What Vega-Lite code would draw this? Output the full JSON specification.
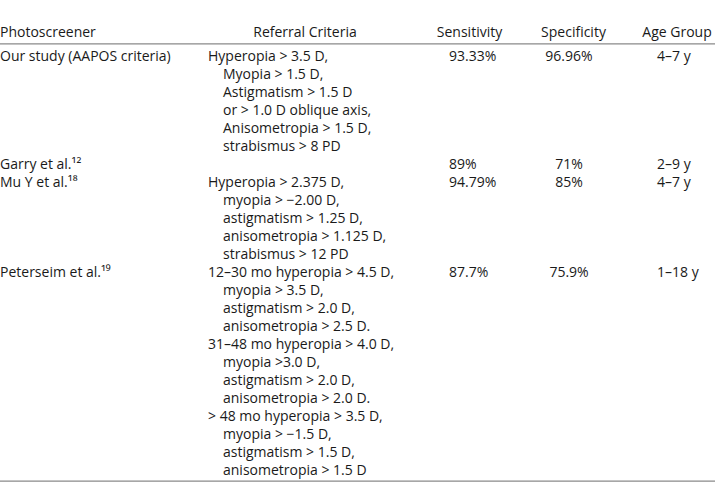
{
  "$schema": "https://vega.github.io/schema/vega-lite/v6.json",
  "width": 715,
  "height": 501,
  "padding": 0,
  "autosize": {"type": "none"},
  "background": "white",
  "config": {
    "view": {"stroke": null},
    "text": {"font": "Open Sans", "fontSize": 14, "color": "#1a1a1a", "baseline": "middle"}
  },
  "datasets": {
    "headers": [
      {"col": 0, "line": -1, "text": "Photoscreener"},
      {"col": 1, "line": -1, "text": "Referral Criteria"},
      {"col": 2, "line": -1, "text": "Sensitivity"},
      {"col": 3, "line": -1, "text": "Specificity"},
      {"col": 4, "line": -1, "text": "Age Group"}
    ],
    "body": [
      {"line": 0, "col": 0, "column": "Photoscreener", "text": "Our study (AAPOS criteria)"},
      {"line": 0, "col": 1, "column": "Referral Criteria", "text": "Hyperopia > 3.5 D,"},
      {"line": 0, "col": 3, "column": "Sensitivity", "text": "93.33%"},
      {"line": 0, "col": 4, "column": "Specificity", "text": "96.96%"},
      {"line": 0, "col": 5, "column": "Age Group", "text": "4–7 y"},
      {"line": 1, "col": 2, "column": "Referral Criteria", "text": "Myopia > 1.5 D,"},
      {"line": 2, "col": 2, "column": "Referral Criteria", "text": "Astigmatism > 1.5 D"},
      {"line": 3, "col": 2, "column": "Referral Criteria", "text": "or > 1.0 D oblique axis,"},
      {"line": 4, "col": 2, "column": "Referral Criteria", "text": "Anisometropia > 1.5 D,"},
      {"line": 5, "col": 2, "column": "Referral Criteria", "text": "strabismus > 8 PD"},
      {"line": 6, "col": 0, "column": "Photoscreener", "text": "Garry et al.¹²"},
      {"line": 6, "col": 3, "column": "Sensitivity", "text": "89%"},
      {"line": 6, "col": 4, "column": "Specificity", "text": "71%"},
      {"line": 6, "col": 5, "column": "Age Group", "text": "2–9 y"},
      {"line": 7, "col": 0, "column": "Photoscreener", "text": "Mu Y et al.¹⁸"},
      {"line": 7, "col": 1, "column": "Referral Criteria", "text": "Hyperopia > 2.375 D,"},
      {"line": 7, "col": 3, "column": "Sensitivity", "text": "94.79%"},
      {"line": 7, "col": 4, "column": "Specificity", "text": "85%"},
      {"line": 7, "col": 5, "column": "Age Group", "text": "4–7 y"},
      {"line": 8, "col": 2, "column": "Referral Criteria", "text": "myopia > −2.00 D,"},
      {"line": 9, "col": 2, "column": "Referral Criteria", "text": "astigmatism > 1.25 D,"},
      {"line": 10, "col": 2, "column": "Referral Criteria", "text": "anisometropia > 1.125 D,"},
      {"line": 11, "col": 2, "column": "Referral Criteria", "text": "strabismus > 12 PD"},
      {"line": 12, "col": 0, "column": "Photoscreener", "text": "Peterseim et al.¹⁹"},
      {"line": 12, "col": 1, "column": "Referral Criteria", "text": "12–30 mo hyperopia > 4.5 D,"},
      {"line": 12, "col": 3, "column": "Sensitivity", "text": "87.7%"},
      {"line": 12, "col": 4, "column": "Specificity", "text": "75.9%"},
      {"line": 12, "col": 5, "column": "Age Group", "text": "1–18 y"},
      {"line": 13, "col": 2, "column": "Referral Criteria", "text": "myopia > 3.5 D,"},
      {"line": 14, "col": 2, "column": "Referral Criteria", "text": "astigmatism > 2.0 D,"},
      {"line": 15, "col": 2, "column": "Referral Criteria", "text": "anisometropia > 2.5 D."},
      {"line": 16, "col": 1, "column": "Referral Criteria", "text": "31–48 mo hyperopia > 4.0 D,"},
      {"line": 17, "col": 2, "column": "Referral Criteria", "text": "myopia >3.0 D,"},
      {"line": 18, "col": 2, "column": "Referral Criteria", "text": "astigmatism > 2.0 D,"},
      {"line": 19, "col": 2, "column": "Referral Criteria", "text": "anisometropia > 2.0 D."},
      {"line": 20, "col": 1, "column": "Referral Criteria", "text": "> 48 mo hyperopia > 3.5 D,"},
      {"line": 21, "col": 2, "column": "Referral Criteria", "text": "myopia > −1.5 D,"},
      {"line": 22, "col": 2, "column": "Referral Criteria", "text": "astigmatism > 1.5 D,"},
      {"line": 23, "col": 2, "column": "Referral Criteria", "text": "anisometropia > 1.5 D"}
    ]
  },
  "layer": [
    {
      "data": {"name": "body"},
      "transform": [{"filter": "datum.col != 4"}],
      "mark": {"type": "text", "align": "left"},
      "encoding": {
        "x": {"field": "col", "type": "quantitative", "axis": null,
              "scale": {"domain": [0, 1, 2, 3, 4, 5], "range": [0, 208, 223, 449, 569, 657]}},
        "y": {"field": "line", "type": "quantitative", "axis": null,
              "scale": {"domain": [-1, 0, 23], "range": [33.4, 57, 471]}},
        "text": {"field": "text"}
      }
    },
    {
      "data": {"name": "body"},
      "transform": [{"filter": "datum.col == 4"}],
      "mark": {"type": "text", "align": "center"},
      "encoding": {
        "x": {"field": "col", "type": "quantitative", "axis": null,
              "scale": {"domain": [0, 1, 2, 3, 4, 5], "range": [0, 208, 223, 449, 569, 657]}},
        "y": {"field": "line", "type": "quantitative", "axis": null,
              "scale": {"domain": [-1, 0, 23], "range": [33.4, 57, 471]}},
        "text": {"field": "text"}
      }
    },
    {
      "data": {"name": "headers"},
      "transform": [{"filter": "datum.col == 0"}],
      "mark": {"type": "text", "align": "left"},
      "encoding": {
        "x": {"field": "col", "type": "quantitative", "axis": null,
              "scale": {"domain": [0, 1, 2, 3, 4], "range": [0, 305, 469.5, 573.5, 677]}},
        "y": {"field": "line", "type": "quantitative", "axis": null,
              "scale": {"domain": [-1, 0, 23], "range": [33.4, 57, 471]}},
        "text": {"field": "text"}
      }
    },
    {
      "data": {"name": "headers"},
      "transform": [{"filter": "datum.col > 0"}],
      "mark": {"type": "text", "align": "center"},
      "encoding": {
        "x": {"field": "col", "type": "quantitative", "axis": null,
              "scale": {"domain": [0, 1, 2, 3, 4], "range": [0, 305, 469.5, 573.5, 677]}},
        "y": {"field": "line", "type": "quantitative", "axis": null,
              "scale": {"domain": [-1, 0, 23], "range": [33.4, 57, 471]}},
        "text": {"field": "text"}
      }
    },
    {
      "data": {"values": [{"rule": "header"}]},
      "mark": {"type": "rule", "color": "#8a8a8a", "strokeWidth": 1.3},
      "encoding": {
        "y": {"datum": -0.56, "type": "quantitative", "axis": null,
              "scale": {"domain": [-1, 0, 23], "range": [33.4, 57, 471]}}
      }
    },
    {
      "data": {"values": [{"rule": "bottom"}]},
      "mark": {"type": "rule", "color": "#8a8a8a", "strokeWidth": 1.3},
      "encoding": {
        "y": {"datum": 23.56, "type": "quantitative", "axis": null,
              "scale": {"domain": [-1, 0, 23], "range": [33.4, 57, 471]}}
      }
    }
  ],
  "resolve": {"scale": {"x": "independent"}}
}
